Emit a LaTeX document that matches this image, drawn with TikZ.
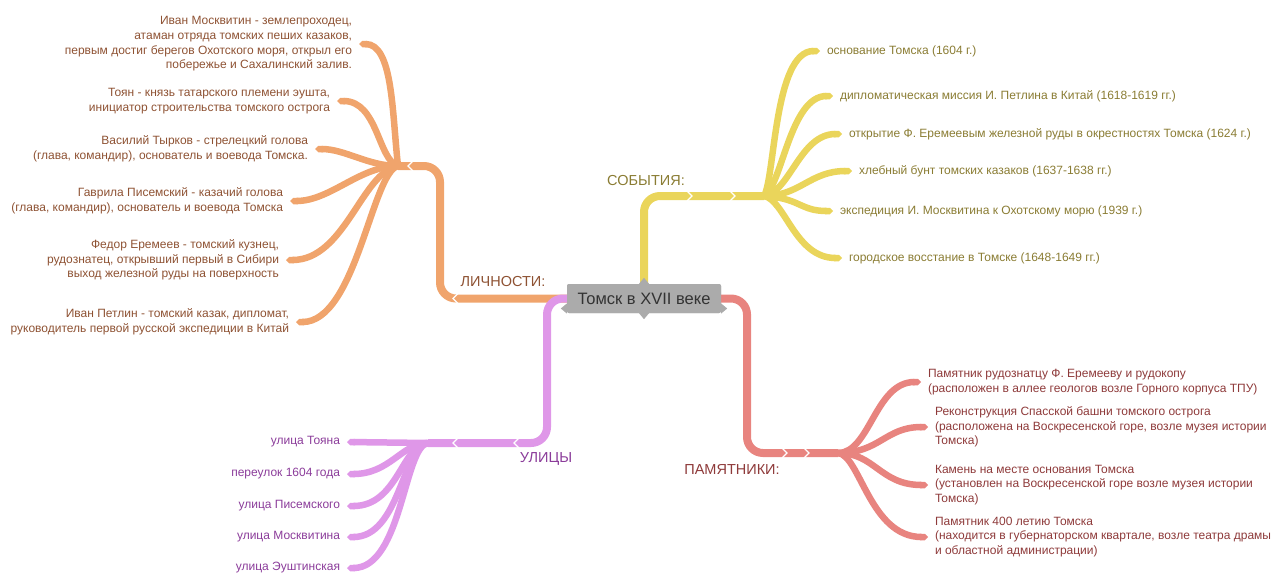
\documentclass[tikz,border=0pt]{standalone}
\usepackage{fontspec}
\setmainfont{Liberation Sans}
\usetikzlibrary{arrows.meta}

\definecolor{persline}{HTML}{F0A46C}
\definecolor{perstext}{HTML}{8E5233}
\definecolor{sobline}{HTML}{EAD55B}
\definecolor{sobtext}{HTML}{8A7C33}
\definecolor{pamline}{HTML}{E8847F}
\definecolor{pamtext}{HTML}{8E3A3A}
\definecolor{ulline}{HTML}{DF97E8}
\definecolor{ultext}{HTML}{8B3C9A}
\definecolor{rootfill}{HTML}{ABABAB}
\definecolor{roottext}{HTML}{333333}
\tikzset{
  rootbox/.style={fill=rootfill,text=roottext,rounded corners=2pt,minimum width=154pt,
    minimum height=29pt,inner sep=0pt,font=\fontsize{16.5}{19}\selectfont},
  trunk/.style={line width=8pt,rounded corners=16pt},
  twig/.style={line width=6.5pt,-{Triangle Cap[]}},
  leaf/.style={inner sep=0pt,outer sep=7pt,font=\fontsize{12}{14.6}\selectfont},
  lleaf/.style={leaf,anchor=east,align=right},
  rleaf/.style={leaf,anchor=west,align=left},
  cat/.style={inner sep=0pt,font=\fontsize{14.5}{17}\selectfont},
  notchL/.pic={\draw[white,line width=1.3pt] (3,-5) -- (-2,0) -- (3,5);},
  notchR/.pic={\draw[white,line width=1.3pt] (-3,-5) -- (2,0) -- (-3,5);},
}

\begin{document}
\begin{tikzpicture}[x=1pt,y=-1pt]
    \useasboundingbox (0,0) rectangle (1271,573);
    \node[rootbox] (root) at (644,298.5) {Томск в XVII веке};
    \coordinate (persHub) at (398,166);
    \coordinate (sobHub) at (764,196);
    \coordinate (pamHub) at (838,453);
    \coordinate (ulHub) at (428,443);

    \node[lleaf,text=perstext] (moskv) at (359,44) {Иван Москвитин - землепроходец,\\атаман отряда томских пеших казаков,\\первым достиг берегов Охотского моря, открыл его\\побережье и Сахалинский залив.};
    \node[lleaf,text=perstext] (toyan) at (337,101) {Тоян - князь татарского племени эушта,\\инициатор строительства томского острога};
    \node[lleaf,text=perstext] (tyrkov) at (315,149) {Василий Тырков - стрелецкий голова\\(глава, командир), основатель и воевода Томска.};
    \node[lleaf,text=perstext] (pisem) at (290,201) {Гаврила Писемский - казачий голова\\(глава, командир), основатель и воевода Томска};
    \node[lleaf,text=perstext] (eremeev) at (286,260) {Федор Еремеев - томский кузнец,\\рудознатец, открывший первый в Сибири\\выход железной руды на поверхность};
    \node[lleaf,text=perstext] (petlin) at (296,322) {Иван Петлин - томский казак, дипломат,\\руководитель первой русской экспедиции в Китай};

    \node[rleaf,text=sobtext] (osnov) at (820,51) {основание Томска (1604 г.)};
    \node[rleaf,text=sobtext] (diplom) at (833,96) {дипломатическая миссия И. Петлина в Китай (1618-1619 гг.)};
    \node[rleaf,text=sobtext] (otkryt) at (842,134) {открытие Ф. Еремеевым железной руды в окрестностях Томска (1624 г.)};
    \node[rleaf,text=sobtext] (bunt) at (852,171) {хлебный бунт томских казаков (1637-1638 гг.)};
    \node[rleaf,text=sobtext] (exped) at (833,211) {экспедиция И. Москвитина к Охотскому морю (1939 г.)};
    \node[rleaf,text=sobtext] (vosst) at (842,258) {городское восстание в Томске (1648-1649 гг.)};

    \node[rleaf,text=pamtext] (pamEr) at (921,382) {Памятник рудознатцу Ф. Еремееву и рудокопу\\(расположен в аллее геологов возле Горного корпуса ТПУ)};
    \node[rleaf,text=pamtext] (pamSp) at (928,427) {Реконструкция Спасской башни томского острога\\(расположена на Воскресенской горе, возле музея истории\\Томска)};
    \node[rleaf,text=pamtext] (pamKam) at (928,485) {Камень на месте основания Томска\\(установлен на Воскресенской горе возле музея истории\\Томска)};
    \node[rleaf,text=pamtext] (pam400) at (928,537) {Памятник 400 летию Томска\\(находится в губернаторском квартале, возле театра драмы\\и областной администрации)};

    \node[lleaf,text=ultext] (ulToyan) at (347,442) {улица Тояна};
    \node[lleaf,text=ultext] (ul1604) at (347,474) {переулок 1604 года};
    \node[lleaf,text=ultext] (ulPisem) at (347,506) {улица Писемского};
    \node[lleaf,text=ultext] (ulMoskv) at (347,537) {улица Москвитина};
    \node[lleaf,text=ultext] (ulEusht) at (347,568) {улица Эуштинская};

    \draw[twig,persline] (persHub) .. controls (392,112) and (393,44) .. (moskv.east);
    \draw[twig,persline] (persHub) .. controls (378,160) and (378,101) .. (toyan.east);
    \draw[twig,persline] (persHub) .. controls (368,166) and (345,149) .. (tyrkov.east);
    \draw[twig,persline] (persHub) .. controls (360,166) and (330,201) .. (pisem.east);
    \draw[twig,persline] (persHub) .. controls (362,172) and (345,260) .. (eremeev.east);
    \draw[twig,persline] (persHub) .. controls (372,172) and (356,322) .. (petlin.east);

    \draw[twig,sobline] (sobHub) .. controls (775,178) and (774,51) .. (osnov.west);
    \draw[twig,sobline] (sobHub) .. controls (782,186) and (790,96) .. (diplom.west);
    \draw[twig,sobline] (sobHub) .. controls (790,192) and (800,134) .. (otkryt.west);
    \draw[twig,sobline] (sobHub) .. controls (800,196) and (810,171) .. (bunt.west);
    \draw[twig,sobline] (sobHub) .. controls (800,198) and (800,211) .. (exped.west);
    \draw[twig,sobline] (sobHub) .. controls (785,200) and (795,258) .. (vosst.west);

    \draw[twig,pamline] (pamHub) .. controls (870,453) and (875,382) .. (pamEr.west);
    \draw[twig,pamline] (pamHub) .. controls (880,453) and (885,427) .. (pamSp.west);
    \draw[twig,pamline] (pamHub) .. controls (875,453) and (880,485) .. (pamKam.west);
    \draw[twig,pamline] (pamHub) .. controls (860,455) and (870,537) .. (pam400.west);

    \draw[twig,ulline] (ulHub) -- (ulToyan.east);
    \draw[twig,ulline] (ulHub) .. controls (402,443) and (390,474) .. (ul1604.east);
    \draw[twig,ulline] (ulHub) .. controls (402,444) and (398,506) .. (ulPisem.east);
    \draw[twig,ulline] (ulHub) .. controls (403,445) and (400,537) .. (ulMoskv.east);
    \draw[twig,ulline] (ulHub) .. controls (404,446) and (402,568) .. (ulEusht.east);

    \draw[trunk,persline] (root.west) -- (440,298.5) |- (persHub);
    \draw[trunk,sobline] (root.north) |- (sobHub);
    \draw[trunk,pamline] (root.east) -- (747,298.5) |- (pamHub);
    \draw[trunk,ulline] (root.west) -- (547,298.5) |- (ulHub);

    \pic at (455,298.5) {notchL};
    \pic at (410,166) {notchL};
    \pic at (690,196) {notchR};
    \pic at (733,196) {notchR};
    \pic at (785,453) {notchR};
    \pic at (807,453) {notchR};
    \pic at (455,443) {notchL};
    \pic at (516,443) {notchL};

    \node[rootbox] at (root) {Томск в XVII веке};
    \fill[rootfill] ([xshift=-5pt]root.north) -- ++(5,-6) -- ++(5,6) -- cycle;
    \fill[rootfill] ([xshift=-5pt]root.south) -- ++(5,6) -- ++(5,-6) -- cycle;
    \fill[rootfill] ([yshift=-5pt]root.west) -- ++(-6,5) -- ++(6,5) -- cycle;
    \fill[rootfill] ([yshift=-5pt]root.east) -- ++(6,5) -- ++(-6,5) -- cycle;

    \node[cat,text=perstext] (persCat) at (503,282) {ЛИЧНОСТИ:};
    \node[cat,text=sobtext] (sobCat) at (646,181) {СОБЫТИЯ:};
    \node[cat,text=pamtext] (pamCat) at (732,470) {ПАМЯТНИКИ:};
    \node[cat,text=ultext] (ulCat) at (546,459) {УЛИЦЫ};
\end{tikzpicture}
\end{document}
